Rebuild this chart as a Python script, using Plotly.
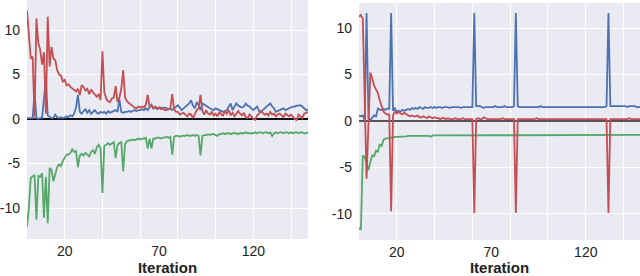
import plotly.graph_objects as go

iterations = list(range(150))

# ---- left panel ----
left_red = [
    12.2, 9.5, 6.8, 7.0, 0.2, 11.3, 8.5, 7.8, 6.1, 7.5,
    0.6, 11.5, 5.9, 8.1, 6.8, 6.6, 5.5, 5.0, 4.9, 4.2,
    4.4, 3.8, 3.9, 3.6, 3.4, 3.2, 3.1, 3.4, 2.7, 3.8,
    3.6, 3.2, 3.4, 2.8, 3.3, 3.0, 2.7, 2.5, 2.8, 2.1,
    7.6, 3.0, 2.3, 2.0, 1.9, 2.3, 2.4, 3.7, 1.9, 2.4,
    3.4, 5.5, 2.4, 2.0, 1.8, 1.6, 1.4, 1.3, 1.2, 1.4,
    1.3, 1.4, 1.3, 1.6, 2.7, 1.4, 1.5, 1.2, 1.4, 1.2,
    1.3, 1.1, 1.2, 1.0, 1.0, 1.1, 1.2, 2.8, 1.1, 0.8,
    0.8, 0.5, 0.6, 0.7, 0.5, 0.3, 0.6, 0.5, 0.1, 0.6,
    1.0, 1.2, 2.7, 0.9, 0.5, 1.0, 0.6, 0.5, 0.8, 0.4,
    0.6, 0.3, 0.8, 0.5, 0.4, 0.9, 0.6, 1.0, 0.4, 0.7,
    0.3, 0.6, 0.9, 0.6, 0.4, 0.7, 0.2, 0.1, 0.5, 0.3,
    0.0, -0.1, 0.4, 0.6, 0.9, 0.7, 0.5, 0.6, 0.4, 0.8,
    0.5, 0.6, 0.3, 0.5, 0.6, 0.4, 0.2, 0.6, 0.4, 0.3,
    0.5, 0.2, 0.0, -0.1, 0.5, 0.3, 0.1, 0.6, 0.7, 0.8,
]
left_blue = [
    0.1, 0.1, 0.05, 0.1, 3.0, 0.1, 0.05, 0.1, 0.15, 2.3,
    4.5, 0.4, 0.2, 0.1, 0.15, 0.5, 0.2, 0.1, 0.2, 0.1,
    0.15, 0.3, 0.2, 0.4, 0.3, 0.6, 1.3, 2.7, 0.8, 0.6,
    0.9, 1.1, 0.7, 1.0, 0.6, 0.8, 1.0, 0.7, 0.6, 0.8,
    0.7, 0.8, 0.6, 0.9, 0.7, 0.8, 0.9, 1.0, 0.8, 2.2,
    0.8, 0.7, 0.8, 0.8, 0.9, 0.8, 0.9, 1.0, 0.9, 1.0,
    1.0, 1.1, 1.0, 1.2, 1.0, 1.3, 1.6, 1.2, 1.3, 1.1,
    1.2, 1.3, 1.2, 1.3, 1.2, 1.1, 1.2, 1.0, 1.2, 1.4,
    1.55, 1.3, 1.0, 1.2, 1.4, 1.6, 1.75, 2.1, 1.5, 1.2,
    1.9, 1.5, 1.0, 1.75, 1.6, 1.4, 1.3, 1.2, 1.1, 1.0,
    1.2, 1.1, 1.0, 0.9, 0.8, 0.9, 1.0, 1.4, 1.75, 1.0,
    1.4, 1.75, 1.5, 1.4, 1.3, 1.4, 1.75, 1.5, 1.4, 1.2,
    1.0, 1.2, 1.4, 0.9, 0.8, 1.0, 1.2, 1.4, 1.6, 1.75,
    1.4, 1.2, 0.8, 0.9, 1.0, 1.1, 1.2, 1.0, 1.1, 1.2,
    1.3, 1.4, 1.4, 1.5, 1.5, 1.55, 1.4, 1.2, 1.0, 1.1,
]
left_green = [
    -12.1, -10.0, -6.6, -6.4, -6.3, -11.3, -6.4, -6.5, -6.1, -11.1,
    -6.5, -11.7, -5.5, -5.7, -7.0, -6.2, -5.4, -5.1, -5.3, -4.7,
    -4.4, -4.0, -4.0, -3.8, -3.4, -3.7, -3.6, -5.4, -4.1, -3.9,
    -4.1, -3.8, -4.0, -4.2, -3.7, -3.5, -3.9, -3.2, -2.9, -3.3,
    -8.3, -3.0, -2.9, -2.7, -2.9, -2.7, -2.6, -4.4, -2.9, -2.7,
    -2.6, -5.9, -2.8, -2.5, -2.4, -2.4, -2.3, -2.4, -2.3, -2.2,
    -2.3, -2.2, -2.2, -2.1, -3.3, -2.2, -3.3, -2.2, -2.2, -2.1,
    -2.1, -2.2, -2.1, -2.1, -2.0, -2.1, -2.0, -4.0, -2.0, -1.9,
    -1.9, -2.0, -1.9, -1.9, -1.9, -1.8, -1.9, -1.9, -1.8, -1.9,
    -1.8, -1.9, -4.1, -1.9, -1.8, -1.8, -1.7, -1.8, -1.7, -1.7,
    -1.8, -1.9, -1.7, -1.7, -1.6, -1.7, -1.6, -1.6, -1.7, -1.6,
    -1.6, -1.6, -1.7, -1.6, -1.6, -1.6, -1.5, -1.6, -1.6, -1.6,
    -1.6, -1.5, -1.6, -1.5, -1.5, -1.6, -1.5, -1.5, -1.6, -1.5,
    -1.9, -1.6, -1.5, -1.6, -1.5, -1.5, -1.6, -1.5, -1.5, -1.6,
    -1.5, -1.6, -1.5, -1.5, -1.6, -1.5, -1.5, -1.6, -1.6, -1.5,
]

# ---- right panel ----
right_red = [
    11.2, 11.4, 11.0, 2.4, -6.2, -0.4, 5.2, 4.6, 3.8, 3.4,
    3.0, 2.2, 1.6, 1.0, 0.8, 0.7, 0.7, -9.7, 0.6, 1.0,
    0.8, 1.0, 0.8, 0.7, 0.9, 0.7, 0.6, 0.5, 0.6, 0.5,
    0.5, 0.6, 0.4, 0.4, 0.5, 0.4, 0.3, 0.5, 0.4, 0.3,
    0.4, 0.3, 0.3, 0.2, 0.3, 0.3, 0.2, 0.3, 0.2, 0.2,
    0.2, 0.3, 0.2, 0.2, 0.2, 0.3, 0.2, 0.2, 0.2, 0.2,
    0.2, -9.9, 0.2, 0.3, 0.2, 0.2, 0.4, 0.3, 0.2, 0.2,
    0.2, 0.2, 0.2, 0.2, 0.2, 0.2, 0.3, 0.2, 0.2, 0.2,
    0.2, 0.2, 0.2, -9.9, 0.2, 0.2, 0.2, 0.2, 0.2, 0.2,
    0.2, 0.2, 0.2, 0.2, 0.3, 0.2, 0.2, 0.2, 0.2, 0.2,
    0.2, 0.2, 0.2, 0.2, 0.2, 0.2, 0.2, 0.2, 0.2, 0.2,
    0.2, 0.2, 0.2, 0.2, 0.2, 0.2, 0.2, 0.2, 0.2, 0.2,
    0.2, 0.2, 0.2, 0.2, 0.2, 0.2, 0.2, 0.2, 0.2, 0.2,
    0.2, 0.2, -9.9, 0.2, 0.2, 0.2, 0.2, 0.2, 0.2, 0.2,
    0.2, 0.2, 0.2, 0.3, 0.2, 0.2, 0.2, 0.2, 0.2, 0.2,
]
right_blue = [
    0.6, 0.5, 0.6, 0.1, 11.6, 0.3, 0.1, 0.3, 0.6, 0.5,
    1.35, 1.2, 1.2, 1.3, 1.2, 1.35, 1.3, 11.6, 1.1, 1.35,
    1.0, 1.1, 1.0, 1.2, 1.1, 1.2, 1.3, 1.2, 1.4, 1.3,
    1.4, 1.3, 1.5, 1.4, 1.3, 1.5, 1.4, 1.4, 1.5, 1.4,
    1.5, 1.4, 1.5, 1.5, 1.4, 1.5, 1.5, 1.5, 1.4, 1.5,
    1.5, 1.5, 1.5, 1.5, 1.4, 1.5, 1.5, 1.5, 1.5, 1.5,
    1.5, 11.6, 1.6, 1.6, 1.6, 1.5, 1.4, 1.5, 1.5, 1.5,
    1.5, 1.5, 1.6, 1.5, 1.5, 1.5, 1.5, 1.6, 1.5, 1.5,
    1.5, 1.5, 1.6, 11.6, 1.6, 1.5, 1.5, 1.5, 1.5, 1.5,
    1.5, 1.5, 1.5, 1.5, 1.5, 1.5, 1.6, 1.5, 1.5, 1.5,
    1.5, 1.5, 1.5, 1.5, 1.5, 1.5, 1.5, 1.5, 1.5, 1.5,
    1.5, 1.5, 1.5, 1.5, 1.5, 1.5, 1.5, 1.5, 1.5, 1.5,
    1.5, 1.5, 1.5, 1.5, 1.5, 1.5, 1.5, 1.5, 1.5, 1.5,
    1.5, 1.6, 11.6, 1.6, 1.6, 1.6, 1.6, 1.6, 1.6, 1.6,
    1.6, 1.6, 1.5, 1.6, 1.6, 1.6, 1.6, 1.5, 1.5, 1.5,
]
right_green = [
    -11.5, -11.7, -3.7, -3.9, -4.5, -5.3, -4.4, -3.7, -3.8, -3.2,
    -3.3, -2.5, -2.7, -2.0, -1.9, -1.85, -1.8, -1.8, -1.75, -1.7,
    -1.7, -1.7, -1.7, -1.65, -1.65, -1.65, -1.6, -1.6, -1.6, -1.6,
    -1.6, -1.6, -1.6, -1.6, -1.6, -1.55, -1.55, -1.6, -1.7, -1.55,
    -1.55, -1.55, -1.55, -1.5, -1.5, -1.55, -1.5, -1.5, -1.5, -1.5,
    -1.5, -1.5, -1.5, -1.5, -1.5, -1.5, -1.5, -1.5, -1.5, -1.5,
    -1.5, -1.5, -1.5, -1.5, -1.5, -1.5, -1.5, -1.5, -1.5, -1.5,
    -1.5, -1.5, -1.5, -1.5, -1.5, -1.5, -1.5, -1.5, -1.5, -1.5,
    -1.5, -1.5, -1.5, -1.5, -1.5, -1.5, -1.5, -1.5, -1.5, -1.5,
    -1.5, -1.5, -1.5, -1.5, -1.5, -1.5, -1.5, -1.5, -1.5, -1.5,
    -1.5, -1.5, -1.5, -1.5, -1.5, -1.5, -1.5, -1.5, -1.5, -1.5,
    -1.5, -1.5, -1.5, -1.5, -1.5, -1.5, -1.5, -1.5, -1.5, -1.5,
    -1.5, -1.5, -1.5, -1.5, -1.5, -1.5, -1.5, -1.5, -1.5, -1.5,
    -1.5, -1.5, -1.5, -1.5, -1.5, -1.5, -1.5, -1.5, -1.5, -1.5,
    -1.5, -1.5, -1.5, -1.5, -1.5, -1.5, -1.5, -1.5, -1.5, -1.5,
]

x_tick_vals = [20, 70, 120]
x_grid_vals = [20, 40, 60, 80, 100, 120, 140]
y_tick_vals = [-10, -5, 0, 5, 10]
y_tick_text = ["-10", "-5", "0", "5", "10"]

RED, BLUE, GREEN = "#c44e52", "#4c72b0", "#55a868"
BG = "#eaeaf2"
FONT = "Liberation Sans, Arial, sans-serif"

fig = go.Figure()
for xa, ya, series in [
    ("x", "y", [(left_green, GREEN), (left_blue, BLUE), (left_red, RED)]),
    ("x2", "y2", [(right_green, GREEN), (right_blue, BLUE), (right_red, RED)]),
]:
    for vals, col in series:
        fig.add_trace(go.Scatter(x=iterations, y=vals, mode="lines",
                                 line=dict(color=col, width=1.8),
                                 xaxis=xa, yaxis=ya, showlegend=False,
                                 hoverinfo="skip"))

def xaxis(domain, rng, anchor):
    return dict(domain=domain, range=rng, anchor=anchor, automargin=False,
                tickmode="array", tickvals=x_tick_vals,
                showgrid=False, zeroline=False, showline=False, ticks="",
                tickfont=dict(family=FONT, size=14, color="#222"),
                ticklabelstandoff=2,
                minor=dict(tickmode="array", tickvals=x_grid_vals, showgrid=True,
                           gridcolor="white", gridwidth=1, ticks=""),
                title=dict(text="<b>Iteration</b>", standoff=1,
                           font=dict(family=FONT, size=15, color="#222")))

def yaxis(domain, rng, zcol, zw, anchor):
    return dict(domain=domain, range=rng, anchor=anchor, automargin=False,
                tickmode="array", tickvals=y_tick_vals, ticktext=y_tick_text,
                showgrid=True, gridcolor="white", gridwidth=1,
                zeroline=True, zerolinecolor=zcol, zerolinewidth=zw,
                showline=False, ticks="", ticklabelstandoff=6,
                tickfont=dict(family=FONT, size=14, color="#222"))

fig.update_layout(
    template="none",
    width=640, height=276,
    margin=dict(l=0, r=0, t=0, b=0, autoexpand=False),
    paper_bgcolor="white", plot_bgcolor=BG,
    xaxis=xaxis([27 / 640, 308 / 640], [0, 149], "y"),
    yaxis=yaxis([1 - 239 / 276, 1.0], [-13.48, 13.37], "#111111", 2.5, "x"),
    xaxis2=xaxis([359 / 640, 1.0], [0, 148.7], "y2"),
    yaxis2=yaxis([1 - 240 / 276, 1 - 3 / 276], [-12.8, 12.69], "#555555", 2, "x2"),
)

fig.write_html("out.html",
               config={"displayModeBar": False, "staticPlot": True},
               post_script="document.body.style.margin='0';document.body.style.overflow='hidden';")
